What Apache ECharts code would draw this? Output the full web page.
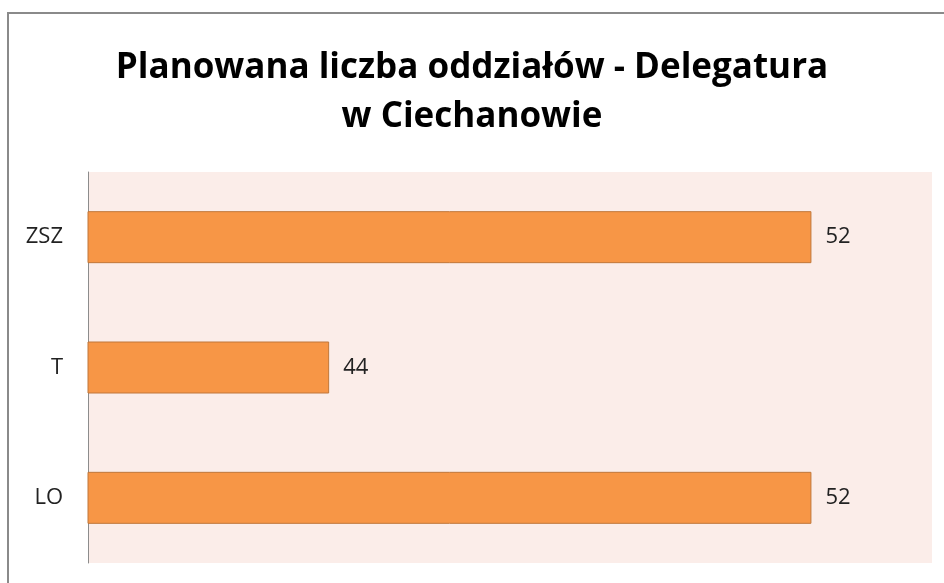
<!DOCTYPE html>
<html>
<head>
<meta charset="utf-8">
<script src="https://cdn.jsdelivr.net/npm/echarts@6/dist/echarts.min.js"></script>
<style>
  html, body { margin: 0; padding: 0; background: #fff; }
  #chart { width: 944px; height: 583px; }
</style>
</head>
<body>
<div id="chart"></div>
<script>
// dane wykresu
const categories = ['LO', 'T', 'ZSZ']
const values = [52, 44, 52]
const titleText = 'Planowana liczba oddziałów - Delegatura\nw Ciechanowie'

const chart = echarts.init(document.getElementById('chart'))
chart.setOption({
  animation: false,
  textStyle: { fontFamily: 'Open Sans' },
  title: {
    text: titleText,
    left: 'center',
    top: 39,
    textStyle: { fontSize: 35, fontWeight: 'bold', color: '#000', lineHeight: 49, fontFamily: 'Open Sans' }
  },
  graphic: [{
    type: 'rect',
    shape: { x: 8, y: 13, width: 960, height: 600 },
    style: { fill: 'none', stroke: '#8a8a8a', lineWidth: 2 },
    silent: true
  }],
  grid: {
    left: 88, top: 172, right: 12, bottom: 20,
    show: true, backgroundColor: '#fbede9', borderWidth: 0
  },
  xAxis: {
    type: 'value',
    min: 40,
    max: 54,
    axisLabel: { show: false },
    axisLine: { show: false },
    axisTick: { show: false },
    splitLine: { show: false }
  },
  yAxis: {
    type: 'category',
    data: categories,
    axisLine: { show: true, lineStyle: { color: '#8c8c8c', width: 1 } },
    axisTick: { show: false },
    axisLabel: { fontSize: 22, color: '#222', margin: 25 }
  },
  series: [{
    type: 'bar',
    data: values,
    barWidth: 52,
    itemStyle: { color: '#f79646', borderColor: '#c0773a', borderWidth: 1 },
    label: { show: true, position: 'right', distance: 14, fontSize: 22, color: '#222' }
  }]
})
</script>
</body>
</html>
